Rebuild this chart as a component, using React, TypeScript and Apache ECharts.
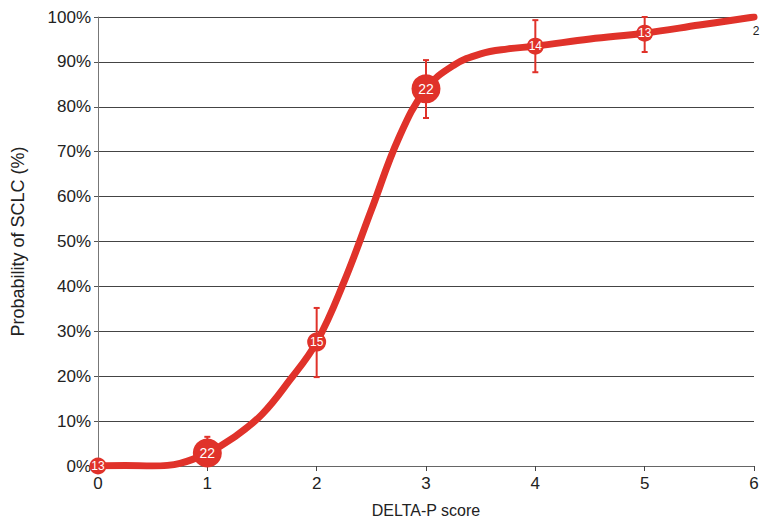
import React, { useEffect, useRef } from "react";
import * as echarts from "echarts";

const scores = [0, 1, 2, 3, 4, 5, 6];
const probs = [0, 2.9, 27.6, 84, 93.5, 96.4, 100];
const counts = [13, 22, 15, 22, 14, 13, 2];
const errLow = [null, 1.5, 19.8, 77.5, 87.7, 92.2, null];
const errHigh = [null, 6.5, 35.2, 90.4, 99.3, 100, null];
const fitX = [0, 0.25, 0.5, 0.75, 1, 1.25, 1.5, 1.75, 2, 2.25, 2.5, 2.75, 3, 3.25, 3.5, 3.75, 4, 4.5, 5, 5.5, 6];
const fitY = [0, 0.1, 0, 0.6, 2.9, 6.5, 11.5, 19, 27.6, 41, 57, 73, 84, 89.2, 91.8, 92.9, 93.5, 95.1, 96.4, 98.2, 100];
const yTicks = [0, 10, 20, 30, 40, 50, 60, 70, 80, 90, 100];

const RED = "#e0322a";
const FONT = "Liberation Sans, Arial, sans-serif";

export default function App() {
  const ref = useRef<HTMLDivElement>(null);
  useEffect(() => {
    const chart = echarts.init(ref.current!, undefined, { renderer: "svg" });
    const sizeOf = (n: number) => (n >= 20 ? 29 : n >= 15 ? 19 : n >= 10 ? 17 : 0);
    chart.setOption({
      animation: false,
      grid: { left: 98, right: 6, top: 17, bottom: 55, containLabel: false, outerBoundsMode: "none" },
      xAxis: {
        type: "value",
        min: 0,
        max: 6,
        interval: 1,
        name: "DELTA-P score",
        nameLocation: "middle",
        nameGap: 36,
        nameTextStyle: { fontSize: 16, color: "#222", fontFamily: FONT },
        axisLine: { show: true, lineStyle: { color: "#666", width: 1 } },
        axisTick: { show: true, length: 5, lineStyle: { color: "#444" } },
        axisLabel: { fontSize: 17, color: "#222", margin: 9, fontFamily: FONT },
        splitLine: { show: false },
      },
      yAxis: {
        type: "value",
        min: 0,
        max: 100,
        interval: 10,
        name: "Probability of SCLC (%)",
        nameLocation: "middle",
        nameGap: 71,
        nameRotate: 90,
        nameTextStyle: { fontSize: 18, color: "#222", fontFamily: FONT },
        axisLine: { show: true, lineStyle: { color: "#777", width: 1 } },
        axisTick: { show: true, length: 4, lineStyle: { color: "#555" } },
        axisLabel: {
          fontSize: 17,
          color: "#222",
          margin: 7,
          fontFamily: FONT,
          formatter: (v: number) => (yTicks.includes(v) ? v + "%" : ""),
        },
        splitLine: { show: true, lineStyle: { color: "#444", width: 1 } },
      },
      series: [
        {
          type: "line",
          data: fitX.map((x, i) => [x, fitY[i]]),
          smooth: 0.4,
          showSymbol: false,
          symbol: "none",
          lineStyle: { color: RED, width: 7, cap: "round" },
          z: 2,
          silent: true,
        },
        {
          type: "custom",
          data: scores
            .map((x, i) => [x, errLow[i], errHigh[i]])
            .filter((d) => d[1] !== null),
          renderItem: (params: any, api: any) => {
            const x = api.value(0);
            const lo = api.coord([x, api.value(1)]);
            const hi = api.coord([x, api.value(2)]);
            const cap = 3;
            const style = { stroke: RED, lineWidth: 2 };
            return {
              type: "group",
              children: [
                { type: "line", shape: { x1: lo[0], y1: lo[1], x2: hi[0], y2: hi[1] }, style },
                { type: "line", shape: { x1: hi[0] - cap, y1: hi[1], x2: hi[0] + cap, y2: hi[1] }, style },
                { type: "line", shape: { x1: lo[0] - cap, y1: lo[1], x2: lo[0] + cap, y2: lo[1] }, style },
              ],
            };
          },
          z: 3,
          clip: false,
        },
        {
          type: "scatter",
          data: scores.map((x, i) => ({
            value: [x, probs[i], counts[i]],
            symbolSize: sizeOf(counts[i]),
            label:
              counts[i] < 10
                ? { show: true, position: "bottom", offset: [2, 3], color: "#222", fontSize: 12, formatter: String(counts[i]) }
                : { show: true, position: "inside", color: "#fff", fontSize: counts[i] >= 20 ? 14 : 12, formatter: String(counts[i]) },
          })),
          itemStyle: { color: RED, opacity: 1, borderColor: RED, borderWidth: 0 },
          label: { fontFamily: FONT },
          z: 4,
          clip: false,
        },
      ],
    });
    return () => chart.dispose();
  }, []);
  return <div ref={ref} style={{ position: "absolute", left: 0, top: 0, width: 760, height: 521 }} />;
}
